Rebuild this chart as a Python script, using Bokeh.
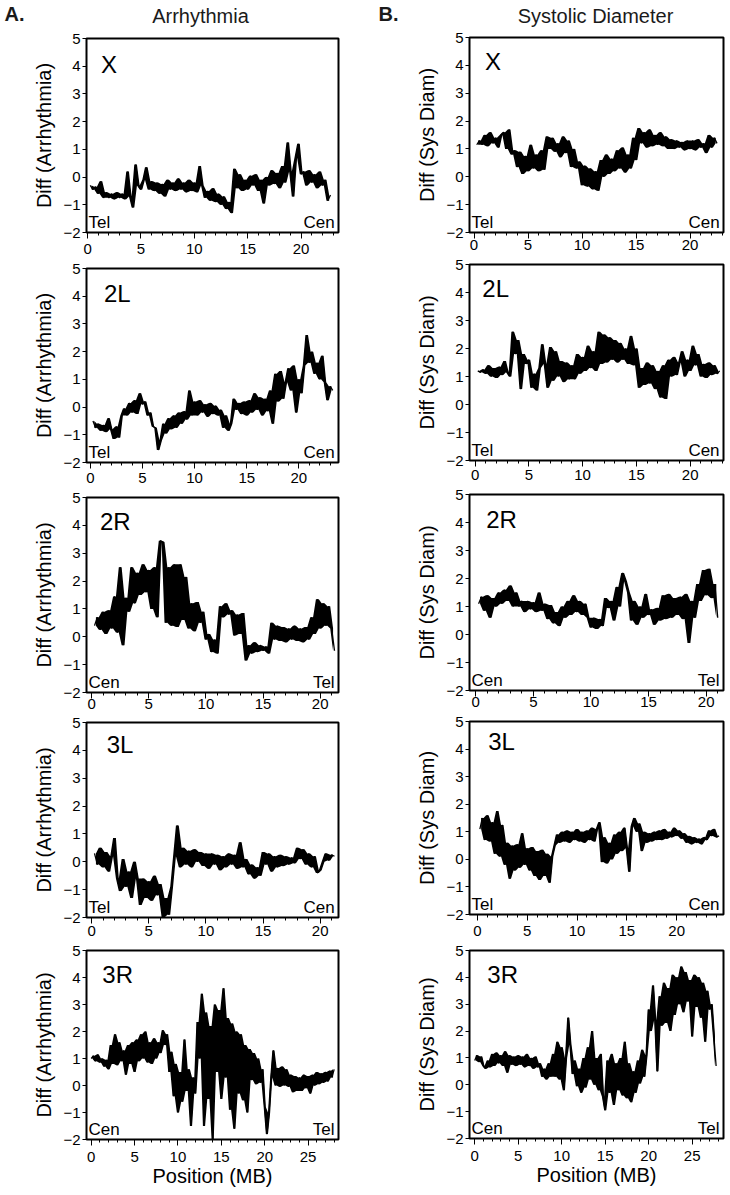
import numpy as np
from bokeh.plotting import figure
from bokeh.layouts import row, column
from bokeh.models import Label, SingleIntervalTicker, FixedTicker, Range1d
from bokeh.embed import file_html
from bokeh.resources import INLINE

FONT = "Liberation Sans"
STEP = 0.25  # MB between the values

# ---------------- A. Arrhythmia ----------------
arr_X_start = 0.25
arr_X = [-0.3, -0.45, -0.35, -0.6, -0.15, -0.75, -0.55, -0.75, -0.6, -0.8, -0.55, -0.75,
         -0.6, -0.8, 0.2, -0.7, -1.1, 0.45, -0.3, -0.45, -0.1, 0.35, -0.45, -0.15,
         -0.5, -0.2, -0.6, -0.25, -0.7, -0.1, -0.45, -0.2, -0.5, -0.05, -0.45, -0.2,
         -0.55, -0.1, -0.5, -0.2, -0.55, 0.4, -0.3, -0.75, -0.5, -0.85, -0.4, -0.9,
         -0.6, -1.0, -0.7, -1.15, -0.9, -1.3, 0.3, -0.4, 0.1, -0.5, -0.1, -0.45,
         0.05, -0.3, 0.1, -0.5, -0.1, -0.95, 0.0, -0.3, 0.25, -0.25, 0.15, -0.4,
         0.4, -0.2, 1.25, 0.2, -0.7, 0.7, 1.2, 0.1, 0.2, -0.3, 0.25, -0.2,
         0.1, -0.4, 0.2, -0.3, -0.1, -0.85, -0.65]
arr_2L_start = 0.25
arr_2L = [-0.5, -0.75, -0.6, -0.85, -0.65, -0.9, -0.4, -0.8, -1.15, -0.7, -1.1, -0.3,
          -0.05, -0.3, 0.15, -0.2, 0.25, -0.25, 0.5, 0.1, 0.2, -0.3, -0.2, -0.7,
          -0.75, -1.55, -1.2, -0.6, -0.95, -0.4, -0.8, -0.3, -0.75, -0.2, -0.6, -0.15,
          -0.45, 0.6, -0.3, 0.2, -0.3, 0.25, -0.2, 0.1, -0.35, 0.15, -0.25, 0.05,
          -0.3, -0.1, -0.75, -0.3, -0.85, -0.6, 0.3, -0.1, 0.15, -0.25, 0.2, -0.3,
          0.25, -0.2, 0.5, -0.1, 0.35, -0.3, 0.3, -0.15, 0.6, -0.6, 1.2, 0.2,
          1.3, 0.3, 0.9, 1.4, 0.6, 1.5, -0.2, 1.0, 0.5, 1.5, 2.6, 1.6,
          2.0, 1.2, 1.6, 1.0, 1.85, 0.9, 0.25, 0.75, 0.6]
arr_2R_start = 0.25
arr_2R = [0.4, 0.7, 0.25, 0.9, 0.1, 0.95, 0.3, 1.45, 0.15, 2.5, -0.3, 1.4,
          0.9, 2.5, 1.2, 2.3, 1.5, 2.6, 1.6, 2.4, 1.0, 2.5, 0.7, 3.45,
          3.4, 0.5, 2.5, 0.4, 2.6, 0.35, 2.6, 0.6, 2.15, 0.3, 1.2, 0.2,
          1.25, 0.5, 0.9, -0.1, 0.1, -0.55, -0.1, -0.6, 1.1, 0.7, 1.2, 0.8,
          0.95, 0.05, 0.8, 0.1, 0.85, -0.85, -0.3, -0.6, -0.2, -0.55, -0.3, -0.5,
          -0.35, -0.6, 0.5, -0.1, 0.4, -0.15, 0.35, -0.2, 0.3, -0.1, 0.4, -0.15,
          0.3, -0.2, 0.35, -0.1, 0.7, 0.1, 1.35, 0.3, 1.2, 0.4, 1.1, 0.3, -0.5]
arr_3L_start = 0.25
arr_3L = [0.3, -0.1, 0.5, -0.2, 0.35, -0.35, 0.2, 0.85, -0.6, -1.05, 0.1, -0.9,
          -0.35, -1.3, 0.0, -0.6, -1.55, -0.6, -1.3, -0.7, -1.4, -0.5, -1.2, -0.8,
          -2.0, -1.3, -1.9, -0.9, 0.2, 1.3, -0.2, 0.5, -0.1, 0.4, -0.2, 0.45,
          0.0, 0.35, -0.15, 0.3, -0.25, 0.3, -0.1, 0.25, -0.3, 0.2, -0.2, 0.3,
          -0.1, 0.25, -0.25, 0.7, -0.2, 0.1, -0.45, -0.1, -0.6, -0.2, -0.5, 0.35,
          -0.1, 0.3, -0.35, 0.2, -0.2, 0.25, -0.15, 0.2, -0.1, 0.15, -0.05, 0.5,
          0.1, 0.45, -0.1, 0.3, -0.2, 0.2, -0.4, -0.3, 0.0, 0.3, 0.05, 0.25, 0.2]
arr_3R_start = 0.0
arr_3R = [1.0, 1.1, 0.9, 1.15, 0.85, 1.0, 0.7, 0.95, 0.6, 1.5, 0.8, 1.9,
          0.75, 1.6, 0.9, 1.3, 0.4, 1.5, 0.8, 1.6, 0.5, 1.7, 0.9, 1.9,
          1.0, 2.0, 0.85, 1.6, 0.8, 1.75, 1.0, 1.6, 1.2, 2.05, 1.5, 1.9,
          0.5, 1.25, -0.4, 0.8, -1.0, 0.5, -0.6, 1.7, -0.2, 0.6, -1.5, 0.3,
          -0.3, 2.35, 1.0, 3.4, -1.5, 2.7, -0.5, 2.2, -2.0, 3.0, 0.5, 2.8,
          -0.5, 3.6, 0.3, 2.5, -0.9, 2.3, -1.6, 2.0, -0.3, 1.9, -0.55, 1.5,
          -1.0, 1.35, 0.2, 1.2, 0.05, 1.0, 0.1, 0.6, -0.8, -1.8, -1.0, 0.3,
          1.3, 0.0, 0.65, -0.05, 0.7, 0.0, 0.6, -0.05, 0.4, -0.25, 0.35, -0.2,
          0.3, -0.2, 0.4, -0.1, 0.35, -0.3, 0.4, 0.0, 0.5, 0.05, 0.45, 0.1,
          0.5, 0.15, 0.55, 0.3, 0.6]

# ---------------- B. Systolic Diameter ----------------
sys_X_start = 0.25
sys_X = [1.15, 1.3, 1.15, 1.5, 1.1, 1.6, 1.2, 1.4, 1.05, 1.5, 1.6, 1.0,
         1.7, 0.8, 0.95, 0.35, 0.9, 0.1, 0.75, 0.2, 1.15, 0.3, 0.8, 0.2,
         0.95, 0.25, 1.45, 1.0, 1.4, 0.9, 1.2, 0.7, 1.45, 0.85, 1.3, 0.35,
         1.0, 0.3, 0.55, -0.3, 0.4, -0.35, 0.3, -0.45, 0.2, -0.5, 0.6, 0.0,
         0.8, 0.1, 0.65, 0.2, 0.95, 0.3, 1.05, 0.15, 0.8, 0.3, 1.4, 0.6,
         1.75, 1.2, 1.6, 1.05, 1.7, 1.1, 1.5, 1.15, 1.6, 1.1, 1.45, 1.0,
         1.35, 1.0, 1.3, 1.05, 1.25, 0.95, 1.3, 1.0, 1.3, 0.95, 1.35, 1.05,
         1.2, 0.85, 1.5, 1.05, 1.4, 1.2]
sys_2L_start = 0.25
sys_2L = [1.2, 1.15, 1.25, 1.1, 1.4, 1.0, 1.3, 0.95, 1.35, 1.05, 1.55, 1.15,
          1.0, 2.6, 1.8, 2.3, 0.55, 1.8, 1.45, 1.6, 0.6, 1.1, 0.5, 1.3,
          2.15, 1.45, 0.6, 2.05, 0.85, 1.9, 1.0, 1.55, 0.8, 1.5, 0.9, 1.4,
          0.9, 1.8, 1.1, 1.7, 1.2, 2.1, 1.3, 1.9, 1.2, 2.6, 1.45, 2.5,
          1.5, 2.4, 1.6, 2.3, 1.5, 2.2, 1.6, 2.0, 1.45, 2.45, 1.4, 2.0,
          0.6, 1.3, 0.7, 1.5, 0.75, 1.4, 0.55, 1.2, 0.25, 1.4, 0.2, 1.6,
          1.0, 1.7, 1.05, 1.5, 1.9, 1.0, 1.6, 1.2, 2.1, 1.4, 1.8, 1.0,
          1.45, 0.95, 1.5, 1.05, 1.4, 1.1, 1.2]
sys_2R_start = 0.25
sys_2R = [1.1, 1.35, 0.85, 1.4, 0.6, 1.3, 1.0, 1.5, 1.1, 1.6, 1.2, 1.75,
          1.0, 1.5, 1.0, 1.2, 0.8, 1.2, 0.9, 1.15, 0.8, 1.5, 0.85, 1.1,
          0.55, 1.05, 0.4, 0.8, 0.3, 1.0, 0.6, 1.2, 0.7, 1.4, 0.8, 1.2,
          0.7, 1.1, 0.6, 0.25, 0.6, 0.2, 0.55, 0.3, 1.3, 0.95, 1.2, 0.5,
          1.7, 1.0, 2.2, 1.9, 1.5, 0.5, 1.2, 0.35, 1.0, 0.6, 1.45, 0.7,
          0.9, 0.35, 0.95, 0.5, 1.4, 0.55, 1.45, 0.6, 1.3, 0.7, 1.35, 0.55,
          1.45, -0.3, 1.2, 0.6, 1.8, 1.2, 2.3, 1.4, 2.35, 1.3, 1.8, 0.6]
sys_3L_start = 0.25
sys_3L = [1.1, 1.5, 0.7, 1.6, 0.65, 1.35, 0.2, 1.75, 0.1, 1.25, -0.2, 0.6,
          -0.7, 0.5, -0.4, 0.55, -0.3, 0.95, -0.2, 0.4, -0.4, 0.45, -0.6, 0.3,
          -0.75, 0.35, -0.6, 0.2, -0.85, 0.1, 0.5, 0.9, 0.6, 1.0, 0.65, 1.05,
          0.6, 1.0, 0.7, 1.1, 0.65, 1.0, 0.6, 1.05, 0.7, 1.15, 0.65, 1.1,
          1.35, -0.1, 0.8, -0.15, 0.6, 0.0, 0.9, 0.2, 1.0, 0.3, 1.15, 0.4,
          -0.45, 1.2, 1.5, 1.0, 1.3, 0.3, 1.0, 0.6, 0.95, 0.65, 1.0, 0.7,
          1.05, 0.7, 1.1, 0.75, 1.0, 0.8, 1.15, 0.85, 1.05, 0.75, 0.95, 0.6,
          0.85, 0.55, 0.8, 0.6, 0.75, 0.55, 0.8, 0.7, 1.05, 0.85, 1.1, 0.8, 0.85]
sys_3R_start = 0.0
sys_3R = [0.9, 1.1, 0.85, 1.05, 0.7, 0.6, 0.9, 0.65, 1.15, 0.7, 1.2, 0.8,
          1.1, 0.7, 1.25, 0.45, 1.1, 0.75, 1.05, 0.7, 1.1, 0.75, 1.05, 0.65,
          1.15, 0.7, 1.0, 0.6, 1.05, 0.65, 0.8, 0.3, 0.6, 0.2, 0.8, 0.3,
          1.15, 0.3, 1.6, 0.2, 1.4, -0.2, 1.0, 2.5, 1.5, 0.4, 0.9, -0.05,
          0.6, -0.3, 1.0, -0.1, 1.4, 0.2, 2.0, 0.0, 1.0, -0.2, 1.15, -0.45,
          -0.95, 0.9, -0.3, 1.15, -0.75, 0.8, -0.2, 1.0, -0.4, 1.6, -0.5, 0.8,
          -0.65, 0.5, -0.3, 0.9, 0.05, 1.3, 0.3, 1.1, 2.8, 2.0, 3.7, 2.4,
          0.5, 3.3, 2.2, 3.8, 2.3, 3.6, 2.0, 4.1, 2.6, 4.0, 3.0, 4.4,
          2.7, 4.2, 3.1, 3.9, 1.8, 4.1, 2.9, 4.0, 2.5, 3.8, 1.6, 3.5,
          2.8, 3.0, 1.8, 0.7]

y_ticks = [-2, -1, 0, 1, 2, 3, 4, 5]
arms = ["X", "2L", "2R", "3L", "3R"]
arm_ends = [("Tel", "Cen"), ("Tel", "Cen"), ("Cen", "Tel"), ("Tel", "Cen"), ("Cen", "Tel")]
arr_series = [(arr_X_start, arr_X), (arr_2L_start, arr_2L), (arr_2R_start, arr_2R),
              (arr_3L_start, arr_3L), (arr_3R_start, arr_3R)]
sys_series = [(sys_X_start, sys_X), (sys_2L_start, sys_2L), (sys_2R_start, sys_2R),
              (sys_3L_start, sys_3L), (sys_3R_start, sys_3R)]
arr_xranges = [(-0.1, 23.5), (-0.37, 23.8), (-0.45, 21.6), (-0.45, 21.6), (-0.54, 28.5)]
sys_xranges = [(-0.42, 23.1), (-0.52, 23.1), (-0.54, 21.5), (-0.79, 24.7), (-0.6, 28.6)]

# ---------------- layout (pixels) ----------------
BASE_FIX = 0.375  # em shift observed for alphabetic baselines in the svg output
HEAD_H = 30
L_W, R_W = 405, 325
L_H = [230, 229, 225, 228, 249]
L_MBT = [8, 8, 8, 8, 8]
L_MBB = [28, 27, 22, 25, 52]
L_MBL = [81, 77, 83, 83, 86]
L_MBR = [63, 67, 61, 61, 65]
L_NAME = [(15, 35), (18, 34), (14, 33), (21, 31), (16, 33)]
R_H = [226, 230, 227, 229, 249]
R_MBT = [7, 8, 8, 8, 8]
R_MBB = [24, 26, 23, 28, 53]
R_MBL = [57, 61, 61, 62, 64]
R_MBR = [7, 6, 6, 4, 5]
R_NAME = [(16, 33), (13, 33), (17, 34), (19, 29), (18, 33)]


def make_panel(series, xr, name, ends, ylab, width, height, mbl, mbr, mbt, mbb, name_pos, bottom):
    x0, vals = series
    fw = width - mbl - mbr
    fh = height - mbt - mbb
    ppu = fh / 7.0
    ppx = fw / (xr[1] - xr[0])
    p = figure(width=width, height=height, x_range=Range1d(xr[0], xr[1]), y_range=Range1d(-2, 5),
               output_backend="svg", toolbar_location=None, title=None,
               min_border_left=mbl, min_border_right=mbr, min_border_top=mbt, min_border_bottom=mbb)
    p.grid.visible = False
    p.outline_line_color = "black"
    p.outline_line_width = 2
    p.background_fill_color = "white"
    p.border_fill_color = "white"

    v = np.asarray(vals, dtype=float)
    xs = x0 + STEP * np.arange(len(v))
    # solid band covered by the dense trace, then the trace itself
    p.varea(x=xs[:-1] + STEP / 2, y1=np.minimum(v[:-1], v[1:]), y2=np.maximum(v[:-1], v[1:]),
            fill_color="black")
    p.line(xs, v, line_color="black", line_width=1.3)

    xa = p.xaxis[0]
    xa.ticker = SingleIntervalTicker(interval=5, num_minor_ticks=5)
    xa.axis_line_color = None
    xa.major_tick_out, xa.major_tick_in = 6, 0
    xa.minor_tick_out, xa.minor_tick_in = 3, 0
    xa.major_tick_line_color = "black"
    xa.minor_tick_line_color = "black"
    xa.major_label_text_font = FONT
    xa.major_label_text_font_size = "15px"
    xa.major_label_text_color = "black"
    if bottom:
        xa.major_label_standoff = 6
        xa.axis_label = "Position (MB)"
        xa.axis_label_text_font = FONT
        xa.axis_label_text_font_size = "20px"
        xa.axis_label_text_font_style = "normal"
        xa.axis_label_text_color = "black"
        xa.axis_label_standoff = 0
    else:
        xa.major_label_standoff = max(0, mbb - 6 - 17)

    ya = p.yaxis[0]
    ya.ticker = FixedTicker(ticks=y_ticks)
    ya.axis_line_color = None
    ya.major_tick_out, ya.major_tick_in = 4, 0
    ya.minor_tick_line_color = None
    ya.major_tick_line_color = "black"
    ya.major_label_standoff = 2
    ya.major_label_text_font = FONT
    ya.major_label_text_font_size = "15px"
    ya.major_label_text_color = "black"
    ya.axis_label = ylab
    ya.axis_label_text_font = FONT
    ya.axis_label_text_font_size = "20px"
    ya.axis_label_text_font_style = "normal"
    ya.axis_label_text_color = "black"
    ya.axis_label_standoff = 5

    dx, dy = name_pos
    p.add_layout(Label(x=xr[0] + dx / ppx, y=5 - (dy - BASE_FIX * 24) / ppu, text=name,
                       text_font=FONT, text_font_size="24px", text_baseline="alphabetic",
                       text_color="black"))
    end_y = -2 + (4 + BASE_FIX * 17) / ppu
    p.add_layout(Label(x=xr[0] + 2 / ppx, y=end_y, text=ends[0],
                       text_font=FONT, text_font_size="17px", text_baseline="alphabetic",
                       text_color="black"))
    p.add_layout(Label(x=xr[1] - 4 / ppx, y=end_y, text=ends[1],
                       text_font=FONT, text_font_size="17px", text_baseline="alphabetic",
                       text_align="right", text_color="black"))
    return p


# header strip with the two column titles
head = figure(width=L_W + R_W, height=HEAD_H, x_range=Range1d(0, L_W + R_W), y_range=Range1d(0, HEAD_H),
              output_backend="svg", toolbar_location=None, title=None, min_border=0,
              x_axis_location=None, y_axis_location=None)
head.grid.visible = False
head.outline_line_color = None
head.border_fill_color = "white"
head_fix = BASE_FIX * 20
for txt, hx, hy, align, style in [("A.", 4, 21, "left", "bold"),
                                   ("Arrhythmia", 200, 23, "center", "normal"),
                                   ("B.", 378, 21, "left", "bold"),
                                   ("Systolic Diameter", 595, 23, "center", "normal")]:
    head.add_layout(Label(x=hx, y=HEAD_H - hy + head_fix, text=txt, text_font=FONT,
                          text_font_size="20px", text_font_style=style, text_align=align,
                          text_baseline="alphabetic", text_color="#1a1a1a"))

left, right = [], []
for i in range(5):
    left.append(make_panel(arr_series[i], arr_xranges[i], arms[i], arm_ends[i], "Diff (Arrhythmia)",
                           L_W, L_H[i], L_MBL[i], L_MBR[i], L_MBT[i], L_MBB[i], L_NAME[i], i == 4))
    right.append(make_panel(sys_series[i], sys_xranges[i], arms[i], arm_ends[i], "Diff (Sys Diam)",
                            R_W, R_H[i], R_MBL[i], R_MBR[i], R_MBT[i], R_MBB[i], R_NAME[i], i == 4))

layout = column(head, row(column(*left), column(*right)))
open("out.html", "w").write(file_html(layout, INLINE))
